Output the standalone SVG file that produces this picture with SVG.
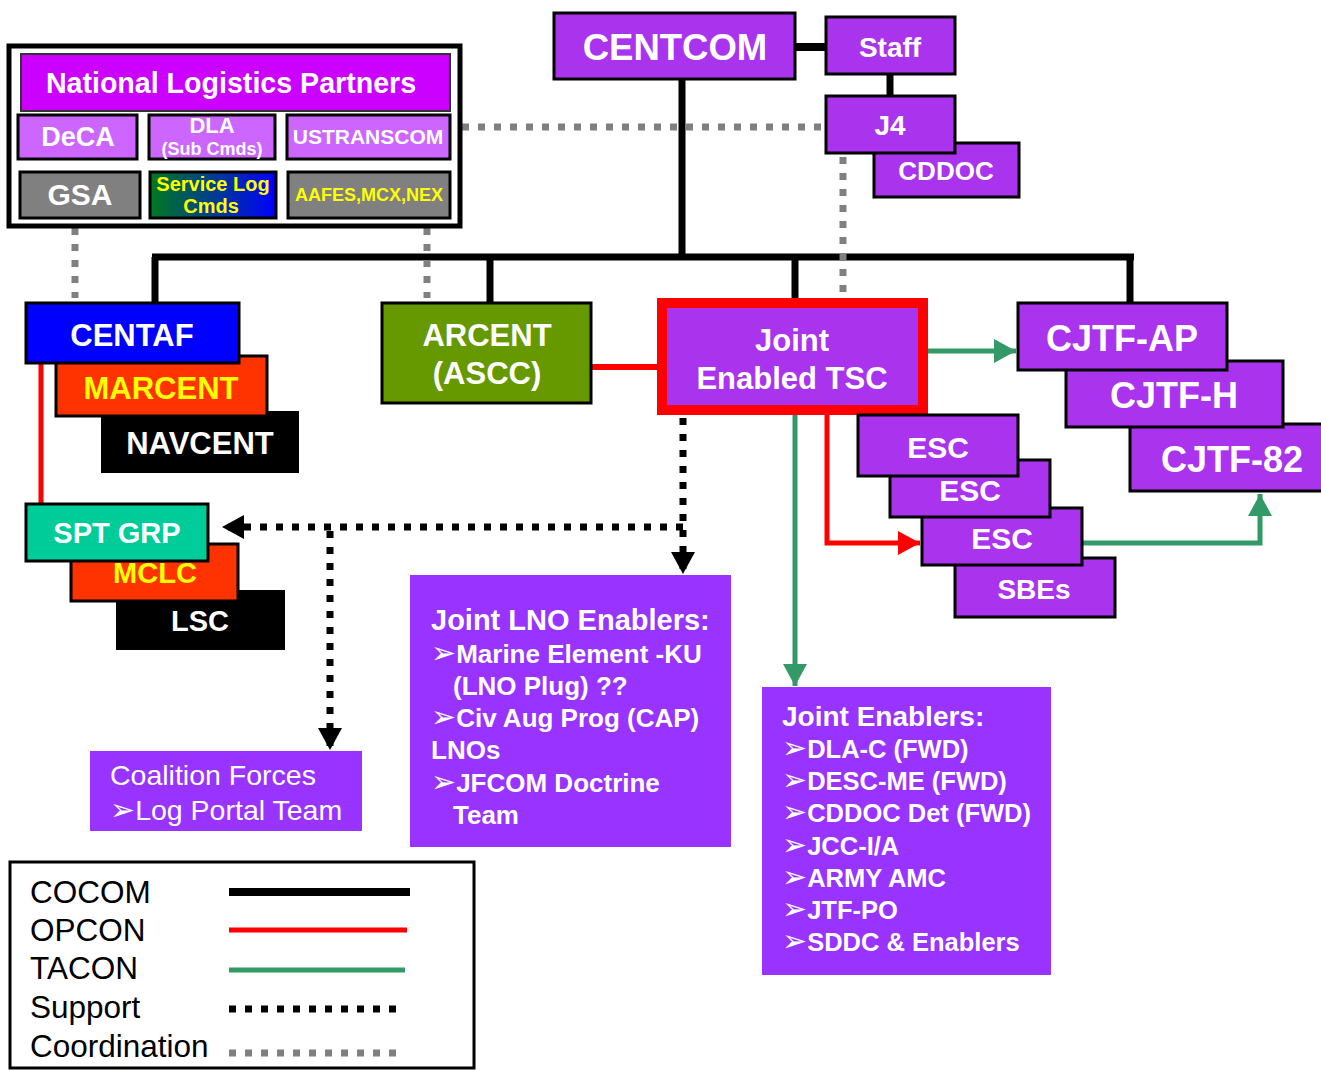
<svg xmlns="http://www.w3.org/2000/svg" width="1321" height="1070" viewBox="0 0 1321 1070">
<style>
text{font-family:"Liberation Sans","DejaVu Sans",sans-serif;font-weight:bold;fill:#fff;text-anchor:middle}
.l{text-anchor:start}
.n{font-weight:normal}
.ar{font-family:"DejaVu Sans",sans-serif;font-weight:normal;font-size:30px}
.node{stroke:#000;stroke-width:3}
.p{fill:#AA33EE}
.tb{fill:#9933FF}
.cocom{stroke:#000;stroke-width:7;fill:none}
.opcon{stroke:#FF0000;stroke-width:5;fill:none}
.tacon{stroke:#339966;stroke-width:5;fill:none}
.sup{stroke:#000;stroke-width:7;stroke-dasharray:7 9;fill:none}
.coord{stroke:#808080;stroke-width:7;stroke-dasharray:7 9;fill:none}
</style>
<defs>
<linearGradient id="slg" x1="0" y1="0" x2="1" y2="0"><stop offset="0" stop-color="#007A1E"/><stop offset="1" stop-color="#0000FF"/></linearGradient>
<marker id="ab" markerUnits="userSpaceOnUse" markerWidth="26" markerHeight="26" refX="22" refY="12" orient="auto"><path d="M0,0 L22,12 L0,24 Z" fill="#000"/></marker>
<marker id="ag" markerUnits="userSpaceOnUse" markerWidth="26" markerHeight="26" refX="22" refY="12" orient="auto"><path d="M0,0 L22,12 L0,24 Z" fill="#339966"/></marker>
<marker id="ar" markerUnits="userSpaceOnUse" markerWidth="26" markerHeight="26" refX="22" refY="12" orient="auto"><path d="M0,0 L22,12 L0,24 Z" fill="#FF0000"/></marker>
</defs>

<g id="connectors">
<line class="cocom" x1="795" y1="47" x2="826" y2="47" style="stroke-width:8"/>
<line class="cocom" x1="890" y1="74" x2="890" y2="95"/>
<line class="cocom" x1="682" y1="80" x2="682" y2="257"/>
<line class="cocom" x1="152" y1="257" x2="1134" y2="257"/>
<line class="cocom" x1="155" y1="257" x2="155" y2="303"/>
<line class="cocom" x1="490" y1="257" x2="490" y2="303"/>
<line class="cocom" x1="795" y1="257" x2="795" y2="298"/>
<line class="cocom" x1="1130" y1="257" x2="1130" y2="303"/>
<line class="coord" x1="462" y1="127" x2="826" y2="127"/>
<line class="coord" x1="843" y1="157" x2="843" y2="298"/>
<line class="coord" x1="75" y1="228" x2="75" y2="298"/>
<line class="coord" x1="427" y1="228" x2="427" y2="298"/>
<line class="opcon" x1="41" y1="363" x2="41" y2="503"/>
<line class="opcon" x1="591" y1="367" x2="657" y2="367" style="stroke-width:6"/>
<path class="opcon" d="M827,415 L827,543 L920,543" marker-end="url(#ar)"/>
<line class="tacon" x1="928" y1="351" x2="1016" y2="351" marker-end="url(#ag)"/>
<line class="tacon" x1="795" y1="415" x2="795" y2="686" marker-end="url(#ag)"/>
<path class="tacon" d="M1082,543 L1260,543 L1260,494" marker-end="url(#ag)"/>
<line class="sup" x1="683" y1="527" x2="222" y2="527" marker-end="url(#ab)"/>
<line class="sup" x1="683" y1="418" x2="683" y2="574" marker-end="url(#ab)"/>
<line class="sup" x1="330" y1="531" x2="330" y2="750" marker-end="url(#ab)"/>
</g>

<g id="nlp">
<rect x="9" y="46" width="451" height="180" fill="#fff" stroke="#000" stroke-width="5"/>
<rect x="21" y="54" width="429" height="57" fill="#CC00FF" stroke="#333" stroke-width="2"/>
<text x="231" y="93" font-size="28.6">National Logistics Partners</text>
</g>
<g id="deca"><rect class="node" x="18" y="115" width="119" height="44" fill="#CC66FF"/><text x="78" y="146" font-size="27">DeCA</text></g>
<g id="dla"><rect class="node" x="149" y="115" width="126" height="44" fill="#CC66FF"/><text x="212" y="133" font-size="22">DLA</text><text x="212" y="155" font-size="18">(Sub Cmds)</text></g>
<g id="ustranscom"><rect class="node" x="287" y="115" width="163" height="44" fill="#CC66FF"/><text x="368" y="144" font-size="21">USTRANSCOM</text></g>
<g id="gsa"><rect class="node" x="20" y="172" width="120" height="46" fill="#808080"/><text x="80" y="205" font-size="30">GSA</text></g>
<g id="slc"><rect class="node" x="150" y="172" width="126" height="46" fill="url(#slg)"/><text x="213" y="191" font-size="20" style="fill:#FFFF00">Service Log</text><text x="211" y="213" font-size="20" style="fill:#FFFF00">Cmds</text></g>
<g id="aafes"><rect class="node" x="288" y="172" width="162" height="46" fill="#808080"/><text x="369" y="201" font-size="18" style="fill:#FFFF00">AAFES,MCX,NEX</text></g>

<g id="centcom"><rect class="node p" x="554" y="13" width="241" height="66"/><text x="675" y="60" font-size="36.5">CENTCOM</text></g>
<g id="staff"><rect class="node p" x="826" y="17" width="129" height="57"/><text x="890" y="57" font-size="28">Staff</text></g>
<g id="cddoc"><rect class="node p" x="874" y="143" width="145" height="54"/><text x="946" y="180" font-size="26">CDDOC</text></g>
<g id="j4"><rect class="node p" x="826" y="96" width="129" height="57"/><text x="890" y="135" font-size="28">J4</text></g>

<g id="navcent"><rect x="101" y="411" width="198" height="62" fill="#000"/><text x="200" y="454" font-size="31">NAVCENT</text></g>
<g id="marcent"><rect class="node" x="56" y="356" width="211" height="60" fill="#FF3300"/><text x="161" y="399" font-size="31" style="fill:#FFFF00">MARCENT</text></g>
<g id="centaf"><rect class="node" x="26" y="303" width="213" height="60" fill="#0000FF"/><text x="132" y="346" font-size="31">CENTAF</text></g>

<g id="lsc"><rect x="116" y="590" width="169" height="60" fill="#000"/><text x="200" y="631" font-size="29">LSC</text></g>
<g id="mclc"><rect class="node" x="71" y="544" width="167" height="57" fill="#FF3300"/><text x="155" y="583" font-size="29" style="fill:#FFFF00">MCLC</text></g>
<g id="sptgrp"><rect class="node" x="26" y="504" width="182" height="57" fill="#00CC99"/><text x="117" y="543" font-size="29">SPT GRP</text></g>

<g id="arcent"><rect class="node" x="382" y="303" width="209" height="100" fill="#669900"/><text x="487" y="346" font-size="31">ARCENT</text><text x="487" y="384" font-size="31">(ASCC)</text></g>

<g id="tsc"><rect x="662" y="303" width="261" height="107" fill="#AA33EE" stroke="#FF0000" stroke-width="10"/><text x="792" y="351" font-size="31">Joint</text><text x="792" y="389" font-size="31">Enabled TSC</text></g>

<g id="cjtf82"><rect class="node p" x="1130" y="424" width="195" height="67"/><text x="1232" y="472" font-size="36">CJTF-82</text></g>
<g id="cjtfh"><rect class="node p" x="1066" y="361" width="217" height="66"/><text x="1174" y="408" font-size="36">CJTF-H</text></g>
<g id="cjtfap"><rect class="node p" x="1018" y="303" width="209" height="67"/><text x="1122" y="351" font-size="36">CJTF-AP</text></g>

<g id="sbes"><rect class="node p" x="955" y="558" width="160" height="59"/><text x="1034" y="599" font-size="28">SBEs</text></g>
<g id="esc3"><rect class="node p" x="922" y="508" width="160" height="57"/><text x="1002" y="549" font-size="30">ESC</text></g>
<g id="esc2"><rect class="node p" x="890" y="460" width="160" height="57"/><text x="970" y="501" font-size="30">ESC</text></g>
<g id="esc1"><rect class="node p" x="858" y="415" width="160" height="61"/><text x="938" y="458" font-size="30">ESC</text></g>

<g id="lno">
<rect class="tb" x="410" y="575" width="321" height="272"/>
<text class="l" x="431" y="630" font-size="29">Joint LNO Enablers:</text>
<text class="l" x="431" y="663" font-size="26"><tspan class="ar">➢</tspan>Marine Element -KU</text>
<text class="l" x="453" y="695" font-size="26">(LNO Plug) ??</text>
<text class="l" x="431" y="727" font-size="26"><tspan class="ar">➢</tspan>Civ Aug Prog (CAP)</text>
<text class="l" x="431" y="759" font-size="26">LNOs</text>
<text class="l" x="431" y="792" font-size="26"><tspan class="ar">➢</tspan>JFCOM Doctrine</text>
<text class="l" x="453" y="824" font-size="26">Team</text>
</g>

<g id="coalition">
<rect class="tb" x="90" y="751" width="272" height="80"/>
<text class="l n" x="110" y="785" font-size="28.5">Coalition Forces</text>
<text class="l n" x="110" y="820" font-size="28.5"><tspan class="ar">➢</tspan>Log Portal Team</text>
</g>

<g id="jenablers">
<rect class="tb" x="762" y="687" width="289" height="288"/>
<text class="l" x="782" y="726" font-size="28">Joint Enablers:</text>
<text class="l" x="782" y="758" font-size="25.5"><tspan class="ar">➢</tspan>DLA-C (FWD)</text>
<text class="l" x="782" y="790" font-size="25.5"><tspan class="ar">➢</tspan>DESC-ME (FWD)</text>
<text class="l" x="782" y="822" font-size="25.5"><tspan class="ar">➢</tspan>CDDOC Det (FWD)</text>
<text class="l" x="782" y="855" font-size="25.5"><tspan class="ar">➢</tspan>JCC-I/A</text>
<text class="l" x="782" y="887" font-size="25.5"><tspan class="ar">➢</tspan>ARMY AMC</text>
<text class="l" x="782" y="919" font-size="25.5"><tspan class="ar">➢</tspan>JTF-PO</text>
<text class="l" x="782" y="951" font-size="25.5"><tspan class="ar">➢</tspan>SDDC &amp; Enablers</text>
</g>

<g id="legend">
<rect x="10" y="862" width="464" height="206" fill="#fff" stroke="#000" stroke-width="3"/>
<text class="l n" x="30" y="903" font-size="31.5" style="fill:#000">COCOM</text>
<text class="l n" x="30" y="941" font-size="31.5" style="fill:#000">OPCON</text>
<text class="l n" x="30" y="979" font-size="31.5" style="fill:#000">TACON</text>
<text class="l n" x="30" y="1018" font-size="31.5" style="fill:#000">Support</text>
<text class="l n" x="30" y="1057" font-size="31.5" style="fill:#000">Coordination</text>
<line class="cocom" x1="229" y1="892" x2="410" y2="892" style="stroke-width:8"/>
<line class="opcon" x1="229" y1="930" x2="407" y2="930"/>
<line class="tacon" x1="229" y1="970" x2="405" y2="970"/>
<line class="sup" x1="229" y1="1009" x2="400" y2="1009"/>
<line class="coord" x1="229" y1="1053" x2="400" y2="1053"/>
</g>
</svg>
